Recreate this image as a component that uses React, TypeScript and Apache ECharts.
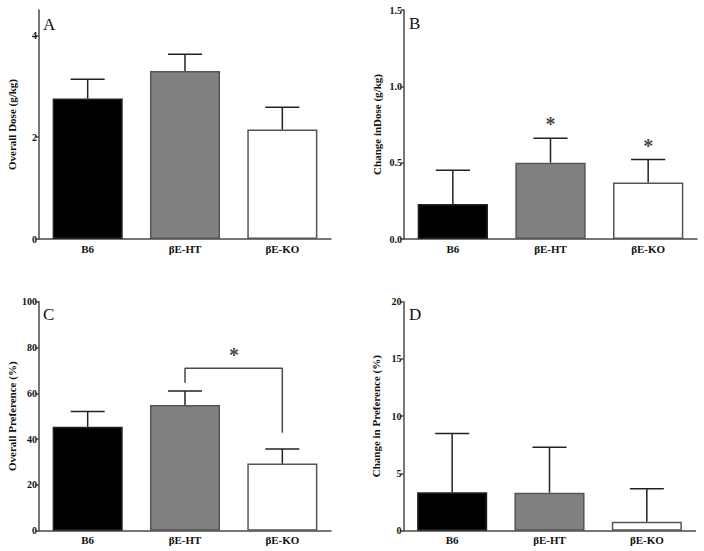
import React, { useEffect, useRef } from "react";
import * as echarts from "echarts";

const categories = ["B6", "βE-HT", "βE-KO"];

const doseMean = [2.76, 3.3, 2.15];
const doseErr = [0.38, 0.33, 0.44];

const doseChangeMean = [0.23, 0.5, 0.37];
const doseChangeErr = [0.22, 0.16, 0.15];

const prefMean = [45.4, 54.9, 29.3];
const prefErr = [6.6, 6.1, 6.4];

const prefChangeMean = [3.35, 3.32, 0.79];
const prefChangeErr = [5.15, 3.96, 2.88];

const doseTicks = [0, 2, 4];
const doseChangeTicks = [0, 0.5, 1.0, 1.5];
const prefTicks = [0, 20, 40, 60, 80, 100];
const prefChangeTicks = [0, 5, 10, 15, 20];

// significance annotations
const doseChangeStars = [
  ["βE-HT", 0.755],
  ["βE-KO", 0.612],
];
const prefBracket = [
  ["βE-HT", 64.6],
  ["βE-HT", 70.9],
  ["βE-KO", 70.9],
  ["βE-KO", 42.8],
];
const prefStar = [["βE-HT", 76.8]];

const panelLetters = ["A", "B", "C", "D"];
const yNames = [
  "Overall Dose (g/kg)",
  "Change inDose (g/kg)",
  "Overall Preference (%)",
  "Change in Preference (%)",
];

const FONT = "'Liberation Serif', 'Times New Roman', serif";
const barColors = ["#000000", "#808080", "#ffffff"];
const AXIS = "#4a4a4a";

export default function App() {
  const ref = useRef<HTMLDivElement>(null);

  useEffect(() => {
    if (!ref.current) return;
    const chart = echarts.init(ref.current, null, { renderer: "svg" });

    const grids = [
      { left: 39, top: 10, width: 292, height: 229 },
      { left: 404, top: 10, width: 293, height: 229 },
      { left: 39, top: 301.7, width: 292, height: 229 },
      { left: 403.5, top: 301.7, width: 292, height: 229 },
    ];

    const yCfg = [
      { min: 0, max: 4.5, interval: 2, ticks: doseTicks, fmt: (v: number) => String(v) },
      { min: 0, max: 1.5, interval: 0.5, ticks: doseChangeTicks, fmt: (v: number) => v.toFixed(1) },
      { min: 0, max: 100, interval: 20, ticks: prefTicks, fmt: (v: number) => String(v) },
      { min: 0, max: 20, interval: 5, ticks: prefChangeTicks, fmt: (v: number) => String(v) },
    ];

    const means = [doseMean, doseChangeMean, prefMean, prefChangeMean];
    const errs = [doseErr, doseChangeErr, prefErr, prefChangeErr];

    const xAxis = grids.map((_, i) => ({
      type: "category",
      gridIndex: i,
      data: categories,
      axisLine: { lineStyle: { color: AXIS, width: 1.5 } },
      axisTick: { show: false },
      axisLabel: {
        color: "#111",
        fontFamily: FONT,
        fontWeight: "bold",
        fontSize: 11,
        margin: 4,
      },
    }));

    const yAxis = yCfg.map((c, i) => ({
      type: "value",
      gridIndex: i,
      min: c.min,
      max: c.max,
      interval: c.interval,
      name: yNames[i],
      nameLocation: "middle",
      nameGap: 22,
      nameTextStyle: {
        color: "#111",
        fontFamily: FONT,
        fontWeight: "bold",
        fontSize: 11,
      },
      splitLine: { show: false },
      axisLine: { show: true, lineStyle: { color: AXIS, width: 1.5 } },
      axisTick: {
        show: true,
        length: 3,
        customValues: c.ticks,
        lineStyle: { color: AXIS, width: 1.5 },
      },
      axisLabel: {
        customValues: c.ticks,
        formatter: c.fmt,
        color: "#111",
        fontFamily: FONT,
        fontWeight: "bold",
        fontSize: 10,
        margin: 2,
      },
    }));

    const series: any[] = [];
    means.forEach((m, i) => {
      series.push({
        type: "bar",
        xAxisIndex: i,
        yAxisIndex: i,
        barWidth: "72%",
        data: m.map((v, k) => ({
          value: v,
          itemStyle: {
            color: barColors[k],
            borderColor: k === 0 ? "#222" : "#555",
            borderWidth: 1.5,
          },
        })),
        z: 2,
      });
      series.push({
        type: "custom",
        xAxisIndex: i,
        yAxisIndex: i,
        data: m.map((v, k) => [k, v, errs[i][k]]),
        z: 3,
        renderItem: (params: any, api: any) => {
          const x = api.value(0);
          const v = api.value(1);
          const e = api.value(2);
          const base = api.coord([x, v]);
          const top = api.coord([x, v + e]);
          const half = api.size([1, 0])[0] * 0.175;
          const style = { stroke: "#222", lineWidth: 1.5 };
          return {
            type: "group",
            children: [
              { type: "line", shape: { x1: base[0], y1: base[1], x2: top[0], y2: top[1] }, style },
              { type: "line", shape: { x1: top[0] - half, y1: top[1], x2: top[0] + half, y2: top[1] }, style },
            ],
          };
        },
      });
    });

    const starLabel = {
      show: true,
      position: "inside",
      formatter: "*",
      color: "#111",
      fontFamily: FONT,
      fontSize: 20,
      fontWeight: "bold",
    };

    series.push({
      type: "scatter",
      xAxisIndex: 1,
      yAxisIndex: 1,
      symbolSize: 1,
      itemStyle: { color: "transparent" },
      data: doseChangeStars,
      label: starLabel,
      z: 5,
    });
    series.push({
      type: "line",
      xAxisIndex: 2,
      yAxisIndex: 2,
      data: prefBracket,
      symbol: "none",
      lineStyle: { color: AXIS, width: 1.5 },
      z: 5,
    });
    series.push({
      type: "scatter",
      xAxisIndex: 2,
      yAxisIndex: 2,
      symbolSize: 1,
      itemStyle: { color: "transparent" },
      data: prefStar,
      label: { ...starLabel },
      z: 5,
    });

    // position the C star between HT and KO: offset by half a category
    (series[series.length - 1] as any).label.offset = [49, 0];

    const letterPos = [
      [43, 24],
      [409, 23],
      [43, 314],
      [409, 314],
    ];

    const graphic = panelLetters.map((t, i) => ({
      type: "text",
      x: letterPos[i][0],
      y: letterPos[i][1],
      style: {
        text: t,
        fontFamily: FONT,
        fontSize: 17,
        fill: "#111",
        textVerticalAlign: "middle",
      },
    }));

    chart.setOption({
      animation: false,
      backgroundColor: "#ffffff",
      grid: grids,
      xAxis,
      yAxis,
      series,
      graphic,
    });

    return () => chart.dispose();
  }, []);

  return (
    <div
      ref={ref}
      style={{ position: "fixed", left: 0, top: 0, width: 704, height: 551 }}
    />
  );
}
